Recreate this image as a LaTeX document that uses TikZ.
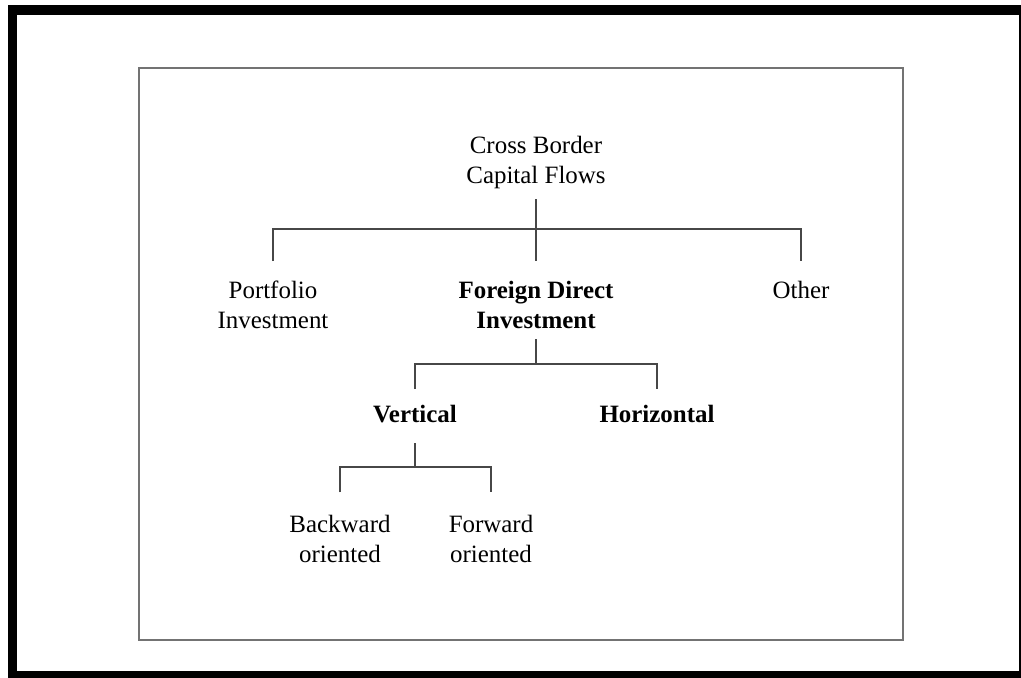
\documentclass[tikz,border=0pt]{standalone}
\usepackage{fontspec}
\setmainfont{Liberation Serif}
\usepackage{tikz}

\tikzset{
  txt/.style={align=center, inner sep=0pt, anchor=north,
    font=\fontsize{18.7}{22.5}\selectfont},
  bld/.style={txt, font=\fontsize{18.7}{22.5}\selectfont\bfseries},
  branch/.style={draw=black!72, line width=1.1pt}
}

\begin{document}
\begin{tikzpicture}[x=0.75pt,y=-0.75pt]
  \useasboundingbox (0,0) rectangle (1021,678);
  \clip (0,0) rectangle (1021,678);
  % frames
  \draw[line width=7.2pt] (12.5,10) rectangle (1024,676);
  \draw[draw=black!55, line width=1.1pt] (139,68) rectangle (903,640);

  \node[txt] (CBCF) at (536,136) {Cross Border\\Capital Flows};
  \node[txt] (PI) at (273,281) {Portfolio\\Investment};
  \node[bld] (FDI) at (536,281) {Foreign Direct\\Investment};
  \node[txt] (OT) at (801,281) {Other};
  \node[bld] (VE) at (415,405) {Vertical};
  \node[bld] (HO) at (657,405) {Horizontal};
  \node[txt] (BO) at (340,515) {Backward\\oriented};
  \node[txt] (FO) at (491,515) {Forward\\oriented};

  \coordinate (J-1) at (536,229);
  \coordinate (J-2) at (536,364);
  \coordinate (J-3) at (415,467);

  \draw[branch, shorten <=10pt*0.75, shorten >=20pt*0.75] (CBCF.south) -- (FDI.north);
  \draw[branch, shorten <=15pt, shorten >=15pt] (PI.north) |- (J-1) -| (OT.north);
  \draw[branch, shorten <=7.5pt] (FDI.south) -- (J-2);
  \draw[branch, shorten <=12pt, shorten >=12pt] (VE.north) |- (J-2) -| (HO.north);
  \draw[branch, shorten <=15pt] (VE.south) -- (J-3);
  \draw[branch, shorten <=17pt, shorten >=17pt] (BO.north) |- (J-3) -| (FO.north);
\end{tikzpicture}
\end{document}
